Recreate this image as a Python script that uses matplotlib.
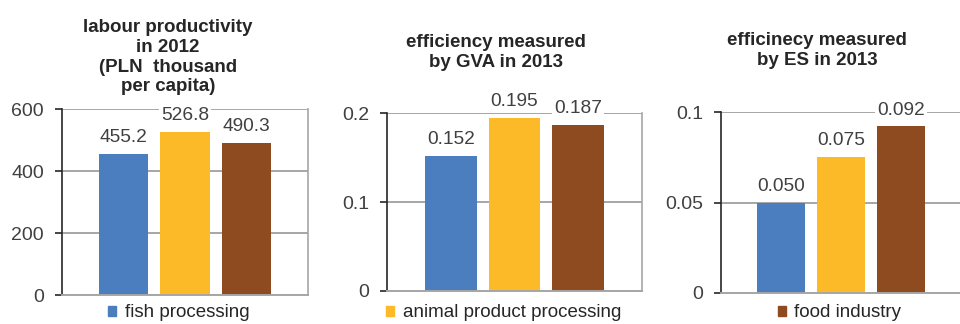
import matplotlib.pyplot as plt
from matplotlib.patches import Patch

plt.rcParams['font.family'] = ['Liberation Sans', 'DejaVu Sans']

series = ['fish processing', 'animal product processing', 'food industry']
colors = ['#4A7EBF', '#FDBA28', '#8E4B20']

labour = [455.2, 526.8, 490.3]
gva = [0.152, 0.195, 0.187]
es = [0.050, 0.075, 0.092]

titles = ['labour productivity\nin 2012\n(PLN  thousand\nper capita)',
          'efficiency measured\nby GVA in 2013',
          'efficinecy measured\nby ES in 2013']
yticks = [[0, 200, 400, 600], [0, 0.1, 0.2], [0, 0.05, 0.1]]
yticklabels = [['0', '200', '400', '600'], ['0', '0.1', '0.2'], ['0', '0.05', '0.1']]
label_fmt = ['{:.1f}', '{:.3f}', '{:.3f}']
data = [labour, gva, es]

# axes boxes and title anchors in figure fractions
boxes = [[0.0646, 0.0895, 0.2563, 0.574],
         [0.4031, 0.1019, 0.2656, 0.549],
         [0.7510, 0.0957, 0.2500, 0.5586]]
title_xy = [(0.175, 0.94), (0.517, 0.895), (0.851, 0.9)]
legend_x = [0.1125, 0.402, 0.810]

fig = plt.figure(figsize=(9.6, 3.24), dpi=100)
grid_c = '#A6A6A6'
text_c = '#262626'

for i in range(3):
    ax = fig.add_axes(boxes[i])
    vals = data[i]
    for j, v in enumerate(vals):
        ax.bar(j, v, width=0.81, color=colors[j], zorder=2)
        ax.annotate(label_fmt[i].format(v), (j, v), xytext=(0, 8.5),
                    textcoords='offset points', ha='center', va='baseline',
                    fontsize=13.8, color='#404040', zorder=4,
                    bbox=dict(facecolor='white', edgecolor='none', pad=1.5))
    ax.set_xlim(-1, 3)
    ax.set_ylim(0, yticks[i][-1])
    ax.set_yticks(yticks[i])
    ax.set_yticklabels(yticklabels[i])
    ax.set_xticks([])
    ax.yaxis.grid(True, color=grid_c, linewidth=1.4, zorder=0)
    ax.set_axisbelow(True)
    ax.spines['top'].set_visible(False)
    ax.spines['right'].set_color(grid_c)
    ax.spines['right'].set_linewidth(1.2)
    ax.spines['bottom'].set_color(grid_c)
    ax.spines['bottom'].set_linewidth(1.4)
    ax.spines['left'].set_color('#262626')
    ax.spines['left'].set_linewidth(1.2)
    ax.tick_params(axis='y', length=5, width=1.2, color='#262626',
                   labelsize=14, labelcolor='#404040', pad=8)

    fig.text(title_xy[i][0], title_xy[i][1], titles[i], ha='center', va='top',
             fontsize=13.5, fontweight='bold', color=text_c, linespacing=1.2)

    ax.legend(handles=[Patch(color=colors[i])], labels=[series[i]],
              loc='center left', bbox_to_anchor=(legend_x[i], 0.034),
              bbox_transform=fig.transFigure, frameon=False, fontsize=13.5,
              handlelength=0.45, handleheight=0.45, handletextpad=0.45,
              borderpad=0, borderaxespad=0, labelcolor='#262626')

fig.savefig('out.png', dpi=100)
